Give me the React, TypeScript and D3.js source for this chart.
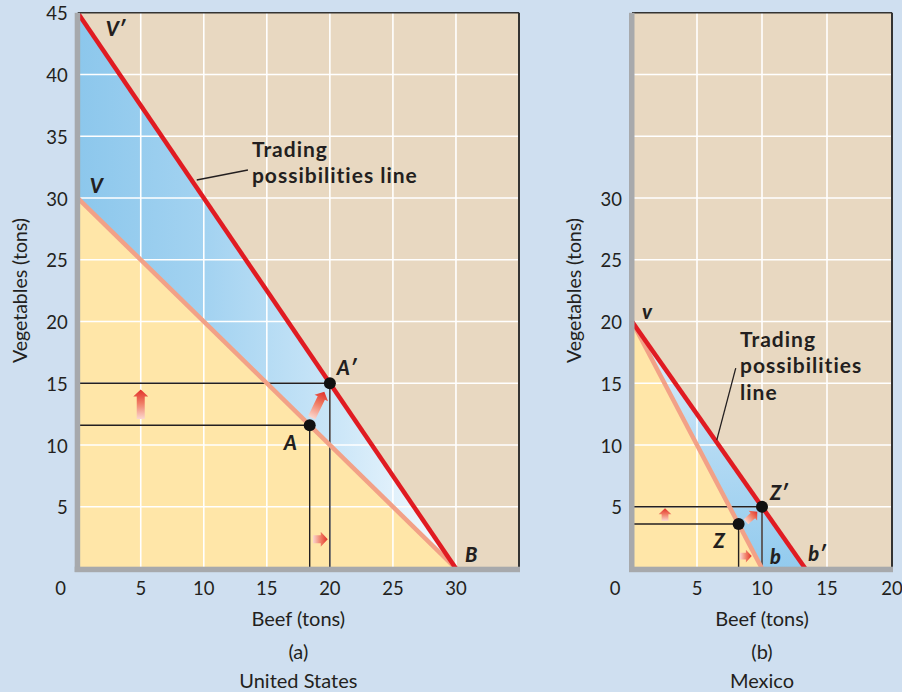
import React from "react";
import * as d3 from "d3";

const W = 902;
const H = 692;
const FONT = "Lato, 'Open Sans', sans-serif";

// ---------- Panel (a): United States ----------
const usXTicks = [5, 10, 15, 20, 25, 30];
const usYTicks = [5, 10, 15, 20, 25, 30, 35, 40, 45];
const usGridX = [5, 10, 15, 20, 25, 30];
const usGridY = [5, 10, 15, 20, 25, 30, 35, 40];
const usPPF: [number, number][] = [[0, 30], [30, 0]];
const usTPL: [number, number][] = [[0, 45], [30, 0]];
const usA: [number, number] = [18.4, 11.6];
const usA2: [number, number] = [20, 15];
const usArrows: [number, number, number, number][] = [
  [5, 12.1, 5, 14.5],
  [18.56, 12.2, 19.56, 14.32],
  [18.66, 2.36, 19.83, 2.36],
];

// ---------- Panel (b): Mexico ----------
const mxXTicks = [5, 10, 15, 20];
const mxYTicks = [5, 10, 15, 20, 25, 30];
const mxGridX = [5, 10, 15];
const mxGridY = [5, 10, 15, 20, 25, 30, 35, 40];
const mxPPF: [number, number][] = [[0, 20], [10, 0]];
const mxTPL: [number, number][] = [[0, 20], [13.33, 0]];
const mxZ: [number, number] = [8.2, 3.6];
const mxZ2: [number, number] = [10, 5];
const mxArrows: [number, number, number, number][] = [
  [2.54, 3.85, 2.54, 4.87],
  [8.77, 3.79, 9.64, 4.6],
  [8.31, 1.01, 9.21, 1.01],
];

const C = {
  page: "#CFDFF0",
  plot: "#E8D8C1",
  yellow: "#FFE6A8",
  ppf: "#F2A187",
  tpl: "#E01B22",
  grid: "#FFFFFF",
  axis: "#A7A9AC",
  text: "#231F20",
};

type Label = { t: string; x: number; y: number; dx: number; dy: number };

type PanelProps = {
  id: string;
  xDomain: [number, number];
  xRange: [number, number];
  xTicks: number[];
  yTicks: number[];
  gridX: number[];
  gridY: number[];
  ppf: [number, number][];
  tpl: [number, number][];
  p0: [number, number];
  p1: [number, number];
  arrows: [number, number, number, number][];
  arrowSize: number;
  labels: Label[];
  noteLines: string[];
  notePos: [number, number];
  noteLead: [number, number, number, number];
  noteStep: number;
  blueGradient: "h" | "v";
  sub: string;
  country: string;
};

function arrowPath(x1: number, y1: number, x2: number, y2: number, s: number) {
  const dx = x2 - x1;
  const dy = y2 - y1;
  const L = Math.hypot(dx, dy);
  const ux = dx / L, uy = dy / L;
  const nx = -uy, ny = ux;
  const sw = 4 * s, hw = 7.5 * s, hl = Math.min(7 * s, L * 0.5);
  const bx = x2 - ux * hl, by = y2 - uy * hl;
  const pts = [
    [x1 + nx * sw, y1 + ny * sw],
    [bx + nx * sw, by + ny * sw],
    [bx + nx * hw, by + ny * hw],
    [x2, y2],
    [bx - nx * hw, by - ny * hw],
    [bx - nx * sw, by - ny * sw],
    [x1 - nx * sw, y1 - ny * sw],
  ];
  return "M" + pts.map((p) => p[0].toFixed(2) + "," + p[1].toFixed(2)).join("L") + "Z";
}

function Panel(p: PanelProps) {
  const xs = d3.scaleLinear().domain(p.xDomain).range(p.xRange);
  const ys = d3.scaleLinear().domain([0, 45]).range([568.5, 12.8]);
  const x0 = xs(0), x1 = xs(p.xDomain[1]);
  const yTop = ys(45), yBot = ys(0);
  const line = d3.line<[number, number]>().x((d) => xs(d[0])).y((d) => ys(d[1]));
  const yellowPoly: [number, number][] = [[0, 0], ...p.ppf];
  const blue: [number, number][] = [p.ppf[0], p.tpl[0], p.tpl[1], p.ppf[1]];
  const cx = (x0 + x1) / 2;
  const gid = p.id + "blue";
  const tplEnd = p.tpl[1][0];
  return (
    <g>
      <defs>
        <clipPath id={p.id + "clip"}>
          <rect x={x0} y={yTop} width={x1 - x0} height={yBot - yTop} />
        </clipPath>
        {p.blueGradient === "h" ? (
          <linearGradient id={gid} gradientUnits="userSpaceOnUse" x1={xs(0)} y1={0} x2={xs(tplEnd)} y2={0}>
            <stop offset="0" stopColor="#8CC7EC" />
            <stop offset="0.35" stopColor="#A4D3F1" />
            <stop offset="0.7" stopColor="#CDE7F8" />
            <stop offset="1" stopColor="#F8FCFF" />
          </linearGradient>
        ) : (
          <linearGradient id={gid} gradientUnits="userSpaceOnUse" x1={0} y1={ys(p.tpl[0][1])} x2={0} y2={ys(0)}>
            <stop offset="0" stopColor="#E8F4FC" />
            <stop offset="0.45" stopColor="#B8DCF4" />
            <stop offset="1" stopColor="#93CBEE" />
          </linearGradient>
        )}
        {p.arrows.map((a, i) => (
          <linearGradient
            key={i}
            id={p.id + "arr" + i}
            gradientUnits="userSpaceOnUse"
            x1={xs(a[0])}
            y1={ys(a[1])}
            x2={xs(a[2])}
            y2={ys(a[3])}
          >
            <stop offset="0" stopColor="#FBD8CF" />
            <stop offset="0.55" stopColor="#EF7A62" />
            <stop offset="1" stopColor="#E2302A" />
          </linearGradient>
        ))}
      </defs>
      <rect x={x0} y={yTop} width={x1 - x0} height={yBot - yTop} fill={C.plot} />
      <g clipPath={`url(#${p.id}clip)`}>
        <path d={line(yellowPoly) + "Z"} fill={C.yellow} />
        <path d={line(blue) + "Z"} fill={`url(#${gid})`} />
        {p.gridX.map((v) => (
          <line key={"gx" + v} x1={xs(v)} x2={xs(v)} y1={yTop} y2={yBot} stroke={C.grid} strokeWidth={1.6} />
        ))}
        {p.gridY.map((v) => (
          <line key={"gy" + v} x1={x0} x2={x1} y1={ys(v)} y2={ys(v)} stroke={C.grid} strokeWidth={1.6} />
        ))}
        {[p.p0, p.p1].map((pt, i) => (
          <g key={"ref" + i} stroke="#231F20" strokeWidth={1.4}>
            <line x1={x0} x2={xs(pt[0])} y1={ys(pt[1])} y2={ys(pt[1])} />
            <line x1={xs(pt[0])} x2={xs(pt[0])} y1={ys(pt[1])} y2={yBot} />
          </g>
        ))}
        <path d={line(p.ppf) || ""} stroke={C.ppf} strokeWidth={4.5} fill="none" />
        <path d={line(p.tpl) || ""} stroke={C.tpl} strokeWidth={4.5} fill="none" />
        {p.arrows.map((a, i) => (
          <path
            key={"ar" + i}
            d={arrowPath(xs(a[0]), ys(a[1]), xs(a[2]), ys(a[3]), p.arrowSize)}
            fill={`url(#${p.id}arr${i})`}
          />
        ))}
        <circle cx={xs(p.p0[0])} cy={ys(p.p0[1])} r={6} fill="#111" />
        <circle cx={xs(p.p1[0])} cy={ys(p.p1[1])} r={6} fill="#111" />
      </g>
      <line x1={x0} x2={x1} y1={yTop} y2={yTop} stroke="#333" strokeWidth={1.5} />
      <line x1={x1} x2={x1} y1={yTop} y2={yBot} stroke="#333" strokeWidth={2} />
      <rect x={x0 - 3} y={yTop} width={5.5} height={572 - yTop} fill={C.axis} />
      <rect x={x0 - 3} y={566.7} width={x1 + 1 - (x0 - 3)} height={5.5} fill={C.axis} />
      {p.labels.map((l, i) => (
        <text
          key={"lb" + i}
          x={xs(l.x) + l.dx}
          y={ys(l.y) + l.dy}
          fontFamily={FONT}
          fontWeight={900}
          fontStyle="italic"
          fontSize={20}
          fill={C.text}
        >
          {l.t}
        </text>
      ))}
      <line
        x1={xs(p.noteLead[0])}
        y1={ys(p.noteLead[1])}
        x2={xs(p.noteLead[2])}
        y2={ys(p.noteLead[3])}
        stroke="#231F20"
        strokeWidth={1.3}
      />
      {p.noteLines.map((t, i) => (
        <text
          key={"nt" + i}
          x={xs(p.notePos[0])}
          y={ys(p.notePos[1]) + i * p.noteStep}
          fontFamily={FONT}
          fontWeight={700}
          fontSize={21}
          letterSpacing={1}
          fill={C.text}
        >
          {t}
        </text>
      ))}
      {p.yTicks.map((v) => (
        <text key={"yt" + v} x={x0 - 10} y={ys(v) + 7.5} textAnchor="end" fontFamily={FONT} fontSize={18.5} fill={C.text}>
          {v}
        </text>
      ))}
      <text x={x0 - 17} y={595} textAnchor="middle" fontFamily={FONT} fontSize={18.5} fill={C.text}>
        0
      </text>
      {p.xTicks.map((v) => (
        <text key={"xt" + v} x={xs(v)} y={595} textAnchor="middle" fontFamily={FONT} fontSize={18.5} fill={C.text}>
          {v}
        </text>
      ))}
      <text
        transform={`translate(${x0 - 51},${290.5}) rotate(-90)`}
        textAnchor="middle"
        fontFamily={FONT}
        fontSize={19.5}
        fill={C.text}
      >
        Vegetables (tons)
      </text>
      <text x={cx} y={626} textAnchor="middle" fontFamily={FONT} fontSize={20} fill={C.text}>
        Beef (tons)
      </text>
      <text x={cx} y={659} textAnchor="middle" fontFamily={FONT} fontSize={20} fill={C.text}>
        {p.sub}
      </text>
      <text x={cx} y={688} textAnchor="middle" fontFamily={FONT} fontSize={20} fill={C.text}>
        {p.country}
      </text>
    </g>
  );
}

export default function App() {
  return (
    <svg
      width={W}
      height={H}
      viewBox={`0 0 ${W} ${H}`}
      style={{ position: "absolute", left: 0, top: 0, display: "block" }}
    >
      <rect x={0} y={0} width={W} height={H} fill={C.page} />
      <Panel
        id="us"
        xDomain={[0, 35]}
        xRange={[77.7, 519]}
        xTicks={usXTicks}
        yTicks={usYTicks}
        gridX={usGridX}
        gridY={usGridY}
        ppf={usPPF}
        tpl={usTPL}
        p0={usA}
        p1={usA2}
        arrows={usArrows}
        arrowSize={1}
        labels={[
          { t: "V\u2032", x: 0, y: 45, dx: 28, dy: 23 },
          { t: "V", x: 0, y: 30, dx: 12, dy: -5 },
          { t: "A\u2032", x: usA2[0], y: usA2[1], dx: 7, dy: -8 },
          { t: "A", x: usA[0], y: usA[1], dx: -26, dy: 25 },
          { t: "B", x: 30, y: 0, dx: 9, dy: -7 },
        ]}
        noteLines={["Trading", "possibilities line"]}
        notePos={[13.82, 33.34]}
        noteLead={[13.5, 32.27, 9.44, 31.46]}
        noteStep={26.5}
        blueGradient="h"
        sub="(a)"
        country="United States"
      />
      <Panel
        id="mx"
        xDomain={[0, 20]}
        xRange={[632, 892]}
        xTicks={mxXTicks}
        yTicks={mxYTicks}
        gridX={mxGridX}
        gridY={mxGridY}
        ppf={mxPPF}
        tpl={mxTPL}
        p0={mxZ}
        p1={mxZ2}
        arrows={mxArrows}
        arrowSize={0.85}
        labels={[
          { t: "v", x: 0, y: 20, dx: 10, dy: -3 },
          { t: "Z\u2032", x: mxZ2[0], y: mxZ2[1], dx: 8, dy: -7 },
          { t: "Z", x: mxZ[0], y: mxZ[1], dx: -25, dy: 24 },
          { t: "b", x: 10, y: 0, dx: 8, dy: -5 },
          { t: "b\u2032", x: 13.33, y: 0, dx: 3, dy: -8 },
        ]}
        noteLines={["Trading", "possibilities", "line"]}
        notePos={[8.31, 17.96]}
        noteLead={[7.98, 16.23, 6.52, 10.4]}
        noteStep={26.7}
        blueGradient="v"
        sub="(b)"
        country="Mexico"
      />
    </svg>
  );
}
